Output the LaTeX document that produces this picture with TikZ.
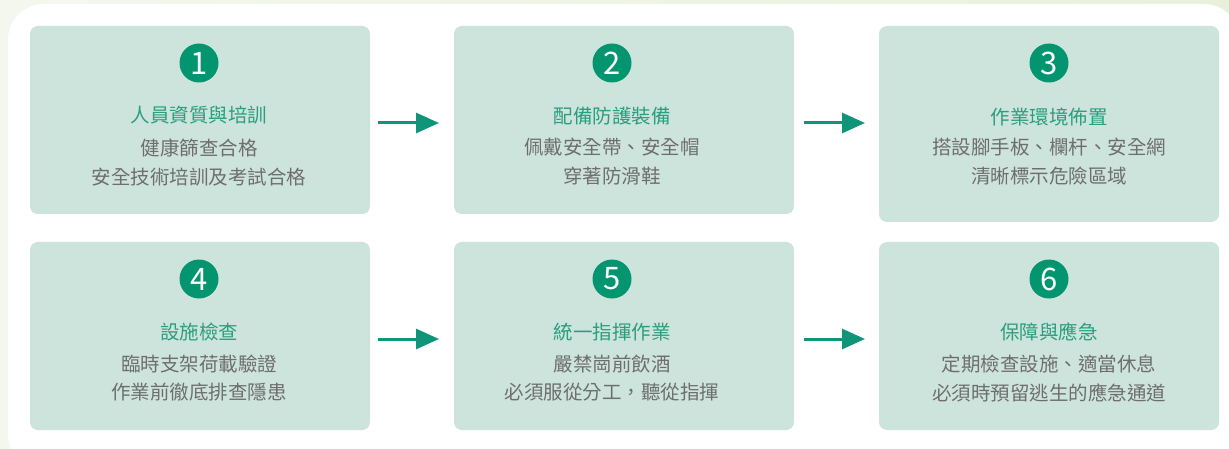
\documentclass[tikz,border=0pt]{standalone}
\usepackage{fontspec}
\newfontfamily\cjk{Noto Sans CJK TC}
\usetikzlibrary{arrows.meta}
\definecolor{bgl}{HTML}{F4F7EE}
\definecolor{bgr}{HTML}{E8F0DA}
\definecolor{boxfill}{HTML}{CDE4DC}
\definecolor{circ}{HTML}{03956F}
\definecolor{ttl}{HTML}{2A9E7D}
\definecolor{bodyc}{HTML}{6E6E6E}
\definecolor{arrc}{HTML}{0E957A}
\tikzset{
  stepbox/.style={fill=boxfill, draw=none, rounded corners=8pt, inner sep=0pt},
  numc/.style={circle, fill=circ, minimum size=39pt, inner sep=0pt, text=white, font=\cjk\fontsize{31}{31}\selectfont},
  ttltext/.style={text=ttl, font=\cjk\fontsize{19.5}{24}\selectfont, inner sep=0pt, anchor=center},
  bodytext/.style={text=bodyc, font=\cjk\fontsize{19.5}{28.5}\selectfont, align=center, inner sep=0pt, anchor=center},
  arr/.style={draw=arrc, line width=3pt, -{Triangle[length=23pt,width=20pt]}}
}
\begin{document}
\begin{tikzpicture}[x=1pt,y=-1pt]
\useasboundingbox (0,0) rectangle (1229,449);
\shade[left color=bgl, right color=bgr] (0,0) rectangle (1229,449);
\fill[white, rounded corners=36pt] (8,4) rectangle (1240,470);
% boxes
\path[stepbox] (30,26) rectangle (370,214) node[pos=0.5] (b1) {};
\path[stepbox] (454,26) rectangle (794,214) node[pos=0.5] (b2) {};
\path[stepbox] (879,26) rectangle (1219,222) node[pos=0.5] (b3) {};
\path[stepbox] (30,242) rectangle (370,430) node[pos=0.5] (b4) {};
\path[stepbox] (454,242) rectangle (794,430) node[pos=0.5] (b5) {};
\path[stepbox] (879,242) rectangle (1219,430) node[pos=0.5] (b6) {};
% box 1
\node[numc] (n1) at (199,63) {1};
\node[ttltext] (t1) at (199,115) {人員資質與培訓};
\node[bodytext] (d1) at (199,162.5) {健康篩查合格\\安全技術培訓及考試合格};
% box 2
\node[numc] (n2) at (612,63) {2};
\node[ttltext] (t2) at (612,116) {配備防護裝備};
\node[bodytext] (d2) at (612,161.5) {佩戴安全帶、安全帽\\穿著防滑鞋};
% box 3
\node[numc] (n3) at (1049,63) {3};
\node[ttltext] (t3) at (1049,117) {作業環境佈置};
\node[bodytext] (d3) at (1049,161.5) {搭設腳手板、欄杆、安全網\\清晰標示危險區域};
% box 4
\node[numc] (n4) at (199,279) {4};
\node[ttltext] (t4) at (199,332) {設施檢查};
\node[bodytext] (d4) at (199,378) {臨時支架荷載驗證\\作業前徹底排查隱患};
% box 5
\node[numc] (n5) at (612,279) {5};
\node[ttltext] (t5) at (612,332) {統一指揮作業};
\node[bodytext] (d5) at (612,378) {嚴禁崗前飲酒\\必須服從分工，聽從指揮};
% box 6
\node[numc] (n6) at (1049,279) {6};
\node[ttltext] (t6) at (1049,332) {保障與應急};
\node[bodytext] (d6) at (1049,378.5) {定期檢查設施、適當休息\\必須時預留逃生的應急通道};
% arrows
\coordinate (a1s) at (378,123); \coordinate (a1e) at (439,123);
\coordinate (a2s) at (804,123); \coordinate (a2e) at (865,123);
\coordinate (a3s) at (378,339); \coordinate (a3e) at (439,339);
\coordinate (a4s) at (804,339); \coordinate (a4e) at (865,339);
\draw[arr] (a1s) -- (a1e);
\draw[arr] (a2s) -- (a2e);
\draw[arr] (a3s) -- (a3e);
\draw[arr] (a4s) -- (a4e);
\end{tikzpicture}
\end{document}
